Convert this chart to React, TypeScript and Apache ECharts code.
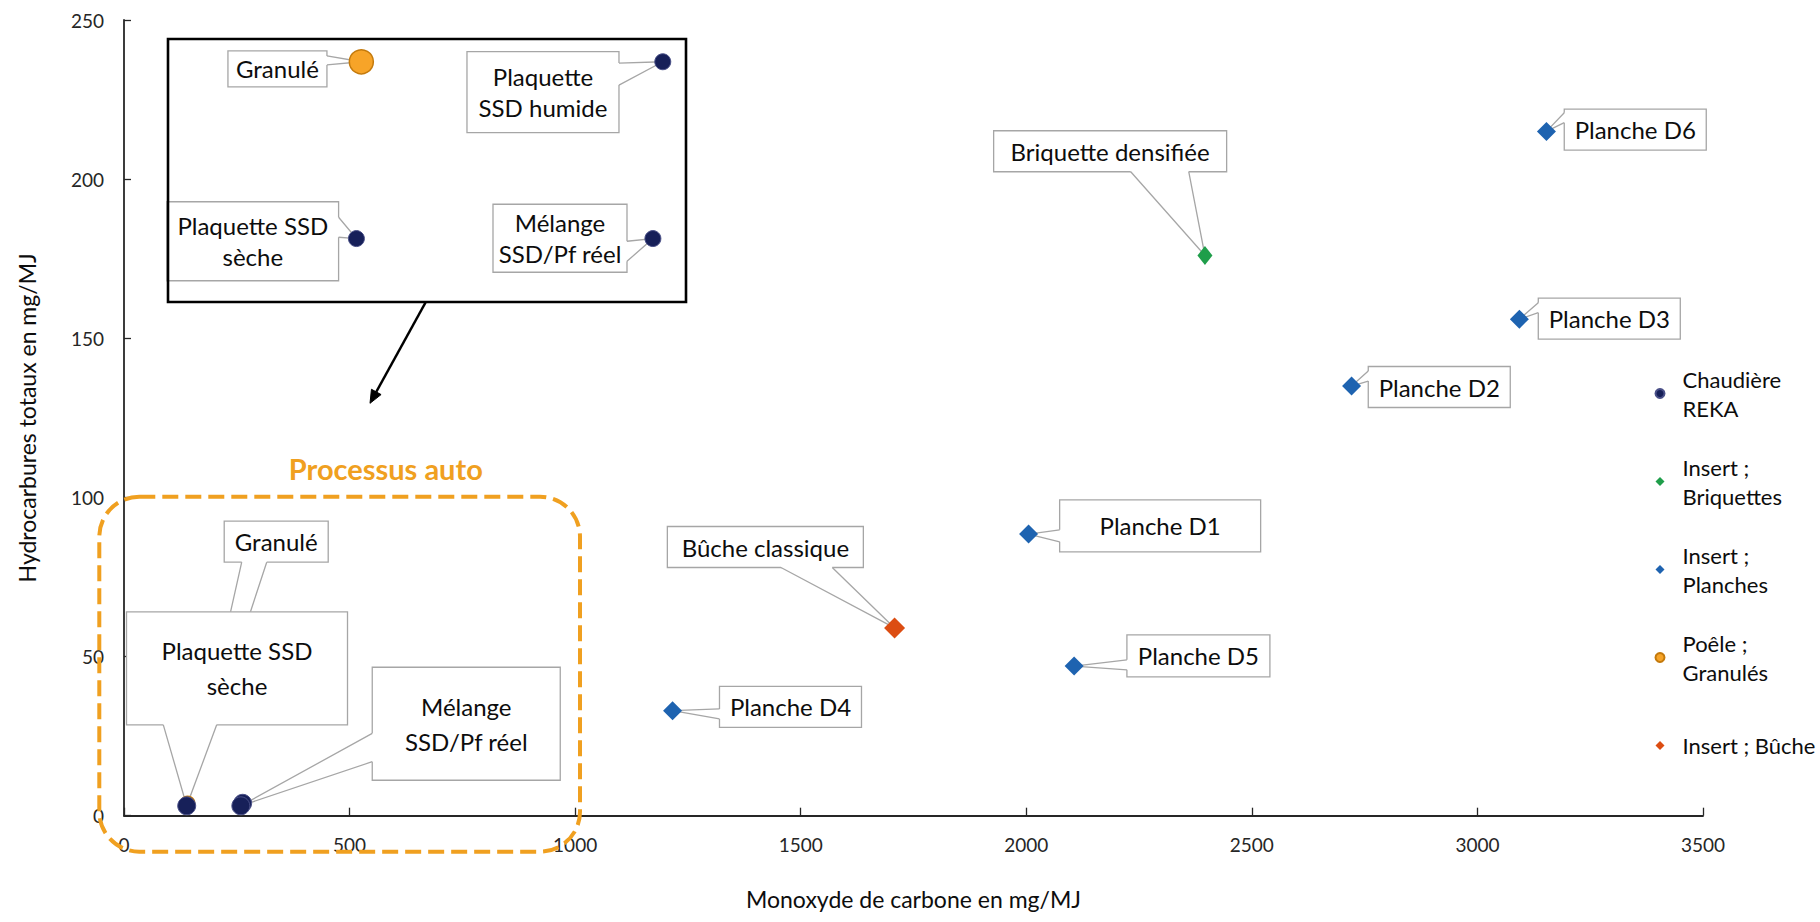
import React, { useEffect, useRef } from "react";
import * as echarts from "echarts";

// ---------- DATA ----------
const seriesNames = ["Chaudière REKA", "Insert ; Briquettes", "Insert ; Planches", "Poêle ; Granulés", "Insert ; Bûche"];

const chaudiereNames = ["Plaquette SSD sèche", "Plaquette SSD humide", "Mélange SSD/Pf réel"];
const chaudiereCO = [139, 263, 259];
const chaudiereHC = [3.1, 3.9, 3.1];

const briquetteNames = ["Briquette densifiée"];
const briquetteCO = [2396];
const briquetteHC = [176];

const plancheNames = ["Planche D1", "Planche D2", "Planche D3", "Planche D4", "Planche D5", "Planche D6"];
const plancheCO = [2005, 2721, 3093, 1216, 2106, 3153];
const plancheHC = [88.5, 135, 156, 33, 47, 215];

const granuleNames = ["Granulé"];
const granuleCO = [141];
const granuleHC = [3.9];

const bucheNames = ["Bûche classique"];
const bucheCO = [1708];
const bucheHC = [59];

const legendLabels: Record<string, string> = {
  "Chaudière REKA": "Chaudière\nREKA",
  "Insert ; Briquettes": "Insert ;\nBriquettes",
  "Insert ; Planches": "Insert ;\nPlanches",
  "Poêle ; Granulés": "Poêle ;\nGranulés",
  "Insert ; Bûche": "Insert ; Bûche",
};

const mainLabelText: Record<string, string> = {
  "Plaquette SSD sèche": "Plaquette SSD\nsèche",
  "Mélange SSD/Pf réel": "Mélange\nSSD/Pf réel",
};
const insetLabelText: Record<string, string> = {
  "Plaquette SSD sèche": "Plaquette SSD\nsèche",
  "Plaquette SSD humide": "Plaquette\nSSD humide",
  "Mélange SSD/Pf réel": "Mélange\nSSD/Pf réel",
};

const insetMaxCO = 300; // the inset magnifies the "Processus auto" cluster

// ---------- LAYOUT (callout boxes, relative to their point) ----------
type Callout = { dx: number; dy: number; w: number; h: number; side: "L" | "R" | "B" | "T"; t1: number; t2: number };
const mainCallouts: Record<string, Callout> = {
  "Briquette densifiée": { dx: -94.8, dy: -104.3, w: 233, h: 41, side: "B", t1: 20.6, t2: 78.6 },
  "Planche D6": { dx: 88.8, dy: -1.7, w: 142, h: 41, side: "L", t1: -17, t2: -7 },
  "Planche D3": { dx: 89.9, dy: -0.5, w: 142, h: 41, side: "L", t1: -16, t2: -6 },
  "Planche D2": { dx: 87.7, dy: 1, w: 142, h: 41, side: "L", t1: -16, t2: -6 },
  "Planche D1": { dx: 131.6, dy: -8.2, w: 201, h: 52, side: "L", t1: 4, t2: 16 },
  "Planche D5": { dx: 124.3, dy: -10.3, w: 143, h: 42, side: "L", t1: 4, t2: 14 },
  "Planche D4": { dx: 117.9, dy: -3.7, w: 142, h: 41, side: "L", t1: 2, t2: 12 },
  "Bûche classique": { dx: -129.2, dy: -80.9, w: 196, h: 41, side: "B", t1: 15.6, t2: 66.9 },
  "Granulé": { dx: 88.6, dy: -261.6, w: 104, h: 41, side: "B", t1: -34.5, t2: -9.5 },
  "Plaquette SSD sèche": { dx: 50.3, dy: -137.5, w: 221, h: 113, side: "B", t1: -73.7, t2: -20.3 },
  "Mélange SSD/Pf réel": { dx: 225.4, dy: -82.1, w: 188, h: 113, side: "L", t1: 9.6, t2: 38 },
};
const insetCallouts: Record<string, Callout> = {
  "Granulé": { dx: -83.9, dy: 7.2, w: 99, h: 36, side: "R", t1: -13, t2: -4 },
  "Plaquette SSD humide": { dx: -119.8, dy: 30.3, w: 152, h: 81, side: "R", t1: -29, t2: -7 },
  "Plaquette SSD sèche": { dx: -103.6, dy: 2.7, w: 171.6, h: 79, side: "R", t1: -24, t2: -4 },
  "Mélange SSD/Pf réel": { dx: -92.9, dy: -0.3, w: 134, h: 68, side: "R", t1: 3, t2: 23 },
};

const FONT = "Lato";

function points(names: string[], co: number[], hc: number[]) {
  return names.map((n, i) => ({ name: n, value: [co[i], hc[i]] }));
}

function makeRenderItem(items: { name: string }[], layouts: Record<string, Callout>, texts: Record<string, string>, lh: number) {
  return (params: any, api: any) => {
    const item = items[params.dataIndex];
    const L = layouts[item.name];
    const p = api.coord([api.value(0), api.value(1)]);
    const cx = p[0] + L.dx;
    const cy = p[1] + L.dy;
    const hw = L.w / 2;
    const hh = L.h / 2;
    let b1: number[], b2: number[], i1: number[], i2: number[];
    if (L.side === "L") {
      b1 = [cx - hw, cy + L.t1]; b2 = [cx - hw, cy + L.t2];
      i1 = [b1[0] + 2, b1[1]]; i2 = [b2[0] + 2, b2[1]];
    } else if (L.side === "R") {
      b1 = [cx + hw, cy + L.t1]; b2 = [cx + hw, cy + L.t2];
      i1 = [b1[0] - 2, b1[1]]; i2 = [b2[0] - 2, b2[1]];
    } else if (L.side === "B") {
      b1 = [cx + L.t1, cy + hh]; b2 = [cx + L.t2, cy + hh];
      i1 = [b1[0], b1[1] - 2]; i2 = [b2[0], b2[1] - 2];
    } else {
      b1 = [cx + L.t1, cy - hh]; b2 = [cx + L.t2, cy - hh];
      i1 = [b1[0], b1[1] + 2]; i2 = [b2[0], b2[1] + 2];
    }
    const stroke = "#a6a6a6";
    return {
      type: "group",
      children: [
        { type: "rect", shape: { x: cx - hw, y: cy - hh, width: L.w, height: L.h }, style: { fill: "#fff", stroke, lineWidth: 1.3 } },
        { type: "polygon", shape: { points: [i1, b1, p, b2, i2] }, style: { fill: "#fff", stroke: "none" } },
        { type: "polyline", shape: { points: [b1, p, b2] }, style: { fill: "none", stroke, lineWidth: 1.3 } },
        {
          type: "text",
          x: cx,
          y: cy,
          style: {
            text: texts[item.name] || item.name,
            align: "center",
            verticalAlign: "middle",
            fontSize: 24,
            fontFamily: FONT,
            lineHeight: lh,
            fill: "#0d0d0d",
          },
        },
      ],
    };
  };
}

export default function App() {
  const ref = useRef<HTMLDivElement>(null);

  useEffect(() => {
    if (!ref.current) return;
    const chart = echarts.init(ref.current, undefined, { renderer: "svg" });

    const chaudiere = points(chaudiereNames, chaudiereCO, chaudiereHC);
    const briquette = points(briquetteNames, briquetteCO, briquetteHC);
    const planche = points(plancheNames, plancheCO, plancheHC);
    const granule = points(granuleNames, granuleCO, granuleHC);
    const buche = points(bucheNames, bucheCO, bucheHC);

    // order matters for overlap of callouts (Granulé under Plaquette SSD sèche)
    const allPoints = [...granule, ...chaudiere, ...briquette, ...planche, ...buche];
    const mainItems = allPoints.filter((d) => mainCallouts[d.name]);
    const insetItems = allPoints.filter((d) => d.value[0] <= insetMaxCO && insetCallouts[d.name]);

    const navy = "#172059";
    const navyEdge = "#4a5088";
    const orange = "#f7a428";
    const orangeEdge = "#c47a0c";

    const axisColor = "#262626";
    const legendItem = (name: string, twoLines: boolean) => ({
      name,
      textStyle: {
        padding: twoLines ? [29, 0, 0, 13] : [29, 0, 29, 13],
        backgroundColor: "rgba(0,0,0,0)",
      },
    });

    // arrow geometry (annotation)
    const a0 = [426, 301.7];
    const tip = [370, 403.3];
    const dxA = tip[0] - a0[0];
    const dyA = tip[1] - a0[1];
    const lenA = Math.hypot(dxA, dyA);
    const ux = dxA / lenA, uy = dyA / lenA;
    const headL = 13, headW = 5.5;
    const bx = tip[0] - headL * ux, by = tip[1] - headL * uy;

    chart.setOption({
      animation: false,
      textStyle: { fontFamily: FONT },
      grid: [
        { left: 124, top: 20, right: 117, bottom: 106.3, outerBoundsMode: "none" },
        { left: 168, top: 39, width: 518, height: 263, outerBoundsMode: "none" },
      ],
      xAxis: [
        {
          type: "value",
          gridIndex: 0,
          min: 0,
          max: 3500,
          interval: 500,
          splitLine: { show: false },
          axisLine: { show: true, onZero: false, lineStyle: { color: axisColor, width: 1.8 } },
          axisTick: { show: true, inside: true, length: 8, lineStyle: { color: axisColor, width: 1.3 } },
          axisLabel: { fontSize: 19, color: axisColor, margin: 19, fontFamily: FONT, formatter: (v: number) => String(v) },
          name: "Monoxyde de carbone en mg/MJ",
          nameLocation: "middle",
          nameGap: 72,
          nameTextStyle: { fontSize: 23, color: "#0d0d0d", fontFamily: FONT },
        },
        { type: "value", gridIndex: 1, min: 62.75, max: 272.4, show: false, splitLine: { show: false } },
      ],
      yAxis: [
        {
          type: "value",
          gridIndex: 0,
          min: 0,
          max: 250,
          interval: 50,
          splitLine: { show: false },
          axisLine: { show: true, onZero: false, lineStyle: { color: axisColor, width: 1.8 } },
          axisTick: { show: true, inside: true, length: 7, lineStyle: { color: axisColor, width: 1.3 } },
          axisLabel: { fontSize: 19, color: axisColor, margin: 20, fontFamily: FONT, formatter: (v: number) => String(v) },
          name: "Hydrocarbures totaux en mg/MJ",
          nameLocation: "middle",
          nameGap: 86,
          nameTextStyle: { fontSize: 23, color: "#0d0d0d", fontFamily: FONT },
        },
        { type: "value", gridIndex: 1, min: 2.813, max: 4.003, show: false, splitLine: { show: false } },
      ],
      legend: {
        orient: "vertical",
        left: 1654.5,
        top: 350,
        padding: 0,
        itemGap: 1,
        itemWidth: 9,
        itemHeight: 9,
        selectedMode: false,
        textStyle: { fontSize: 22, lineHeight: 29, color: "#0d0d0d", fontFamily: FONT },
        formatter: (n: string) => legendLabels[n] || n,
        data: [
          legendItem(seriesNames[0], true),
          legendItem(seriesNames[1], true),
          legendItem(seriesNames[2], true),
          legendItem(seriesNames[3], true),
          legendItem(seriesNames[4], false),
        ],
      },
      graphic: {
        elements: [
          { type: "rect", z: 0, shape: { x: 168, y: 39, width: 518, height: 263 }, style: { fill: "#fff", stroke: "none" } },
          { type: "rect", z: 100, shape: { x: 168, y: 39, width: 518, height: 263 }, style: { fill: "none", stroke: "#000", lineWidth: 2.6 } },
          { type: "line", z: 100, shape: { x1: a0[0], y1: a0[1], x2: bx, y2: by }, style: { stroke: "#000", lineWidth: 2.4 } },
          {
            type: "polygon",
            z: 100,
            shape: { points: [tip, [bx + headW * uy, by - headW * ux], [bx - headW * uy, by + headW * ux]] },
            style: { fill: "#000", stroke: "#000", lineWidth: 1 },
          },
          {
            type: "rect",
            z: 100,
            shape: { x: 99.3, y: 496.7, width: 480.7, height: 355, r: 40 },
            style: { fill: "none", stroke: "#f0a020", lineWidth: 4, lineDash: [16, 7] },
          },
          {
            type: "text",
            z: 100,
            x: 385.8,
            y: 468.3,
            style: {
              text: "Processus auto",
              align: "center",
              verticalAlign: "middle",
              fontSize: 29,
              fontWeight: "bold",
              fontFamily: FONT,
              fill: "#f0a020",
            },
          },
        ],
      },
      series: [
        {
          type: "custom",
          name: "callouts",
          xAxisIndex: 0,
          yAxisIndex: 0,
          z: 3,
          silent: true,
          clip: false,
          renderItem: makeRenderItem(mainItems, mainCallouts, mainLabelText, 35),
          data: mainItems.map((d) => d.value),
          encode: { x: 0, y: 1 },
        },
        {
          type: "custom",
          name: "insetCallouts",
          xAxisIndex: 1,
          yAxisIndex: 1,
          z: 3,
          silent: true,
          clip: false,
          renderItem: makeRenderItem(insetItems, insetCallouts, insetLabelText, 31),
          data: insetItems.map((d) => d.value),
          encode: { x: 0, y: 1 },
        },
        {
          name: seriesNames[3],
          type: "scatter",
          z: 4,
          symbol: "circle",
          symbolSize: 14,
          itemStyle: { color: orange, borderColor: orangeEdge, borderWidth: 1.5, opacity: 1 },
          data: granule,
        },
        {
          name: seriesNames[0],
          type: "scatter",
          z: 6,
          symbol: "circle",
          symbolSize: 18,
          itemStyle: { color: navy, borderColor: navyEdge, borderWidth: 1, opacity: 1 },
          data: chaudiere,
        },
        {
          name: seriesNames[1],
          type: "scatter",
          z: 5,
          symbol: "diamond",
          symbolSize: [15, 19],
          itemStyle: { color: "#1f9e4a", opacity: 1 },
          data: briquette,
        },
        {
          name: seriesNames[2],
          type: "scatter",
          z: 5,
          symbol: "diamond",
          symbolSize: [19, 19],
          itemStyle: { color: "#1e63b0", opacity: 1 },
          data: planche,
        },
        {
          name: seriesNames[4],
          type: "scatter",
          z: 5,
          symbol: "diamond",
          symbolSize: [21, 21],
          itemStyle: { color: "#dc4d12", opacity: 1 },
          data: buche,
        },
        // magnified inset (same points, second grid)
        {
          name: "inset-granule",
          type: "scatter",
          xAxisIndex: 1,
          yAxisIndex: 1,
          z: 5,
          symbol: "circle",
          symbolSize: 24,
          itemStyle: { color: orange, borderColor: orangeEdge, borderWidth: 1.5, opacity: 1 },
          data: granule.filter((d) => d.value[0] <= insetMaxCO),
        },
        {
          name: "inset-chaudiere",
          type: "scatter",
          xAxisIndex: 1,
          yAxisIndex: 1,
          z: 5,
          symbol: "circle",
          symbolSize: 16,
          itemStyle: { color: navy, borderColor: navyEdge, borderWidth: 1, opacity: 1 },
          data: chaudiere.filter((d) => d.value[0] <= insetMaxCO),
        },
      ],
    });

    return () => chart.dispose();
  }, []);

  return <div ref={ref} style={{ position: "fixed", left: 0, top: 0, width: 1820, height: 922, background: "#fff" }} />;
}
